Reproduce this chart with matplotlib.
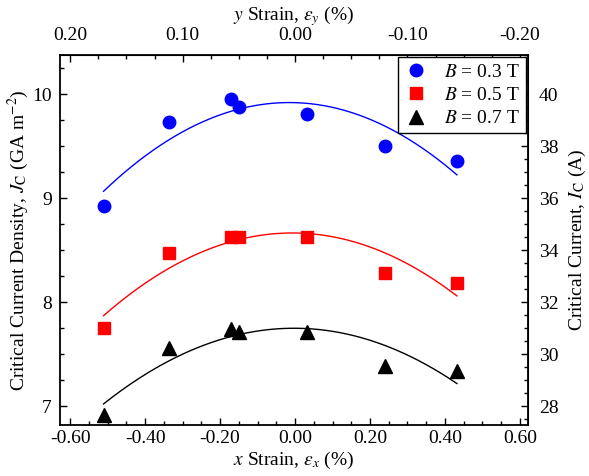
import numpy as np
import matplotlib
matplotlib.use("Agg")
import matplotlib.pyplot as plt
from matplotlib.ticker import MultipleLocator, FixedLocator, FormatStrFormatter

plt.rcParams['font.family'] = ['Liberation Serif', 'DejaVu Serif']
plt.rcParams['mathtext.fontset'] = 'stix'
plt.rcParams['font.size'] = 14

# x strain (%) of each measurement
strain_x = [-0.511, -0.337, -0.171, -0.149, 0.031, 0.240, 0.432]

# critical current density (GA m^-2) per field
jc_03 = [8.926, 9.728, 9.952, 9.878, 9.805, 9.503, 9.356]
jc_05 = [7.753, 8.476, 8.628, 8.628, 8.628, 8.276, 8.180]
jc_07 = [6.913, 7.560, 7.737, 7.715, 7.708, 7.385, 7.337]

# top axis ticks, y strain (%)
strain_y_ticks = [0.20, 0.10, 0.00, -0.10, -0.20]

fields = ['0.3', '0.5', '0.7']
series = [jc_03, jc_05, jc_07]
colors = ['blue', 'red', 'black']
markers = ['o', 's', '^']
msizes = [9, 8, 10]

fig = plt.figure(figsize=(5.89, 4.76), dpi=100)
ax = fig.add_axes([0.102, 0.107, 0.794, 0.777])

x = np.array(strain_x)
xs = np.linspace(x.min(), x.max(), 200)
for jc, b, c, m, ms in zip(series, fields, colors, markers, msizes):
    ax.plot(x, jc, linestyle='none', marker=m, color=c, ms=ms,
            label=f'$B$ = {b} T')
    coef = np.polyfit(x, jc, 2)
    ax.plot(xs, np.polyval(coef, xs), color=c, lw=1.0)

ax.set_xlim(-0.627, 0.621)
ax.set_ylim(6.817, 10.375)
ax.xaxis.set_major_locator(MultipleLocator(0.2))
ax.xaxis.set_minor_locator(MultipleLocator(0.05))
ax.xaxis.set_major_formatter(FormatStrFormatter('%.2f'))
ax.yaxis.set_major_locator(MultipleLocator(1))
ax.yaxis.set_minor_locator(MultipleLocator(0.25))
ax.tick_params(which='both', direction='in')
ax.tick_params(which='major', length=5, width=1)
ax.tick_params(which='minor', length=3, width=1)
ax.tick_params(axis='y', pad=6)
for s in ax.spines.values():
    s.set_linewidth(1.3)

ax.set_xlabel(r'$x$ Strain, $\varepsilon_x$ (%)', labelpad=2)
ax.set_ylabel(r'Critical Current Density, $J_\mathrm{C}$ (GA m$^{-2}$)', labelpad=1)

top = ax.secondary_xaxis('top', functions=(lambda v: -v / 3, lambda v: -3 * v))
top.xaxis.set_major_locator(FixedLocator(strain_y_ticks))
top.xaxis.set_minor_locator(MultipleLocator(0.025))
top.xaxis.set_major_formatter(FormatStrFormatter('%.2f'))
top.tick_params(which='both', direction='in')
top.tick_params(which='major', length=5, width=1, pad=8)
top.tick_params(which='minor', length=3, width=1)
top.set_xlabel(r'$y$ Strain, $\varepsilon_y$ (%)', labelpad=5)

right = ax.secondary_yaxis('right', functions=(lambda v: 4 * v, lambda v: v / 4))
right.yaxis.set_major_locator(MultipleLocator(2))
right.yaxis.set_minor_locator(MultipleLocator(0.5))
right.tick_params(which='both', direction='in')
right.tick_params(which='major', length=5, width=1, pad=8)
right.tick_params(which='minor', length=3, width=1)
right.set_ylabel(r'Critical Current, $I_\mathrm{C}$ (A)', labelpad=6)

leg = ax.legend(loc='upper right', fancybox=False, edgecolor='black',
                framealpha=1, borderaxespad=0.1, handletextpad=0.8,
                handlelength=1.3, borderpad=0.3, labelspacing=0.3)
leg.get_frame().set_linewidth(1.0)

fig.savefig('out.png', dpi=100)
